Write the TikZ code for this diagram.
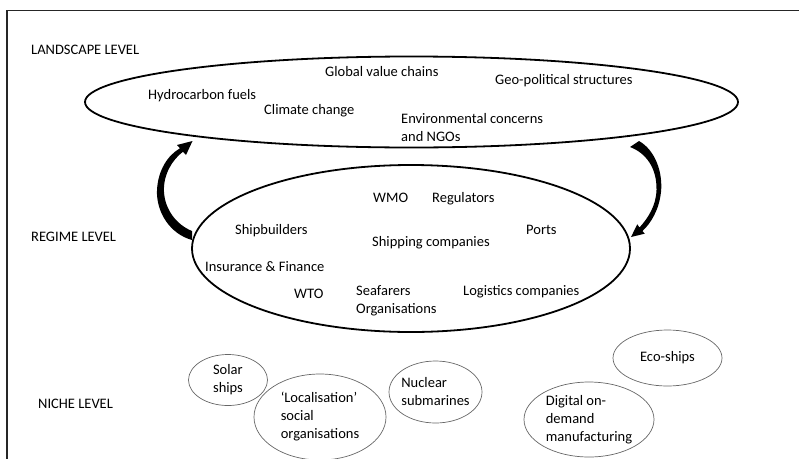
\documentclass[tikz,border=0pt]{standalone}
\usepackage{fontspec}
\setmainfont{Carlito}
\usetikzlibrary{shapes.geometric}
\begin{document}
\begin{tikzpicture}[x=1pt,y=-1pt,
  lbl/.style={inner sep=0pt, anchor=west, font=\fontsize{14.5}{18}\selectfont, align=left},
  big/.style={draw, ellipse, line width=1.8pt, inner sep=0pt},
  niche/.style={draw=black!60, ellipse, line width=0.7pt, inner sep=-4pt, font=\fontsize{14.5}{18}\selectfont, align=left},
  arr/.style={fill=black, draw=none},
  frame/.style={draw=black!85, line width=1.6pt}]
\useasboundingbox (0,0) rectangle (799,458);
% frame
\draw[frame] (7,459) -- (7,10.5) -- (800,10.5);
% level labels
\node[lbl] (llev) at (31,50) {LANDSCAPE LEVEL};
\node[lbl] (rlev) at (31,237) {REGIME LEVEL};
\node[lbl] (nlev) at (38,404) {NICHE LEVEL};
% big ellipses
\node[big, minimum width=653pt, minimum height=91pt] (land) at (411.5,102) {};
\node[big, minimum width=438pt, minimum height=167pt] (regime) at (411,248.5) {};
% landscape texts
\node[lbl] (gvc) at (325,72) {Global value chains};
\node[lbl] (geo) at (495,81) {Geo-political structures};
\node[lbl] (hyd) at (148,96) {Hydrocarbon fuels};
\node[lbl] (clim) at (264,111) {Climate change};
\node[lbl] (env) at (401,127.5) {Environmental concerns\\and NGOs};
% regime texts
\node[lbl] (wmo) at (373,198) {WMO};
\node[lbl] (reg) at (432,199) {Regulators};
\node[lbl] (shipb) at (235,231) {Shipbuilders};
\node[lbl] (ports) at (526,230) {Ports};
\node[lbl] (shipc) at (372,243) {Shipping companies};
\node[lbl] (ins) at (205,267) {Insurance \& Finance};
\node[lbl] (wto) at (294,294) {WTO};
\node[lbl] (sea) at (356,301) {Seafarers\\Organisations};
\node[lbl] (log) at (463,292) {Logistics companies};
% niche ellipses
\node[niche, minimum width=79pt, minimum height=51pt] (solar) at (228,380) {Solar\\ships};
\node[niche, minimum width=132pt, minimum height=86pt] (local) at (320,417) {`Localisation'\\social\\organisations};
\node[niche, minimum width=93pt, minimum height=62pt] (nuc) at (435.5,392) {Nuclear\\submarines};
\node[niche, minimum width=109pt, minimum height=56pt] (eco) at (667.5,358) {Eco-ships};
\node[niche, minimum width=130pt, minimum height=75pt] (dig) at (589,419.5) {Digital on-\\demand\\manufacturing};
% left curved arrow (regime -> landscape)
\fill[arr] (192,240) .. controls (170,234) and (156,212) .. (157,190)
  .. controls (158,170) and (168,155) .. (180,148.3)
  -- (177,145) -- (192.5,141) -- (186,155) -- (183,151.7)
  .. controls (172,160) and (163,175) .. (164,192)
  .. controls (165,210) and (177,225) .. (192,231) -- cycle;
% right curved arrow (landscape -> regime)
\fill[arr] (639,141) .. controls (655,150) and (663,172) .. (661,192)
  .. controls (659,210) and (651,223) .. (642.5,231)
  -- (644.7,233.7) -- (631,237) -- (637.3,224.3) -- (639.5,227.5)
  .. controls (648,218) and (656,206) .. (656.5,190)
  .. controls (657,168) and (646,153) .. (630,147) -- cycle;
\end{tikzpicture}
\end{document}
